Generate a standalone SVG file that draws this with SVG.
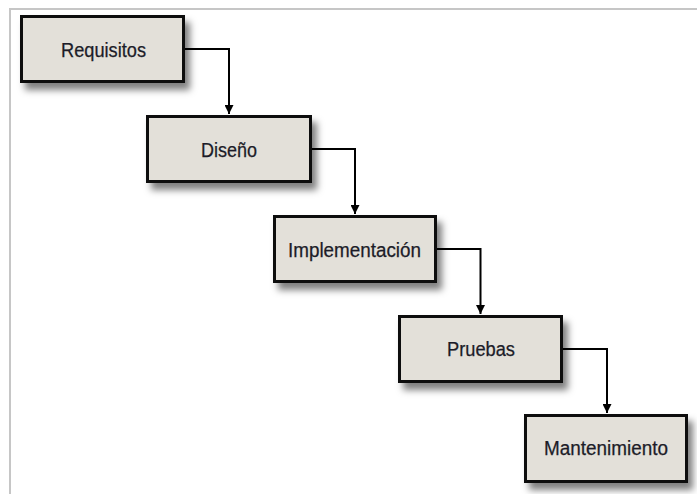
<svg xmlns="http://www.w3.org/2000/svg" width="697" height="494" viewBox="0 0 697 494">
<defs>
<filter id="sh" x="-10%" y="-20%" width="135%" height="160%">
<feDropShadow dx="5" dy="7" stdDeviation="3.5" flood-color="#000" flood-opacity="0.5"/>
</filter>
<marker id="ah" viewBox="0 0 10 10" refX="10" refY="5" markerWidth="5" markerHeight="4.5" orient="auto" markerUnits="strokeWidth">
<path d="M0,0 L10,5 L0,10 Z" fill="#000"/>
</marker>
</defs>
<style>
.box{fill:#e3e0d9;stroke:#0d0d0d;stroke-width:3;filter:url(#sh)}
.lbl{font-family:"Liberation Sans",Arial,sans-serif;font-size:20px;fill:#1c1c28;stroke:#1c1c28;stroke-width:0.25;text-anchor:middle}
.conn{fill:none;stroke:#000;stroke-width:2}
</style>
<rect width="697" height="494" fill="#fff"/>
<path d="M10,494 V9 H697" fill="none" stroke="#c6c6c6" stroke-width="2"/>
<g id="connectors">
<path class="conn" d="M185,49 H229 V114" marker-end="url(#ah)"/>
<path class="conn" d="M312,149 H355 V214" marker-end="url(#ah)"/>
<path class="conn" d="M437,249 H480.5 V314" marker-end="url(#ah)"/>
<path class="conn" d="M563,349 H607 V413" marker-end="url(#ah)"/>
</g>
<g id="requisitos">
<rect class="box" x="21.5" y="16.5" width="162" height="65"/>
<text class="lbl" x="103.5" y="57" textLength="85" lengthAdjust="spacingAndGlyphs">Requisitos</text>
</g>
<g id="diseno">
<rect class="box" x="147.5" y="116.5" width="163" height="65"/>
<text class="lbl" x="229" y="157" textLength="56" lengthAdjust="spacingAndGlyphs">Diseño</text>
</g>
<g id="implementacion">
<rect class="box" x="274.5" y="216.5" width="161" height="65"/>
<text class="lbl" x="354.5" y="257" textLength="133" lengthAdjust="spacingAndGlyphs">Implementación</text>
</g>
<g id="pruebas">
<rect class="box" x="399.5" y="316.5" width="162" height="65"/>
<text class="lbl" x="481" y="356" textLength="68" lengthAdjust="spacingAndGlyphs">Pruebas</text>
</g>
<g id="mantenimiento">
<rect class="box" x="525.5" y="415.5" width="161" height="66"/>
<text class="lbl" x="606" y="455" textLength="124" lengthAdjust="spacingAndGlyphs">Mantenimiento</text>
</g>
</svg>
